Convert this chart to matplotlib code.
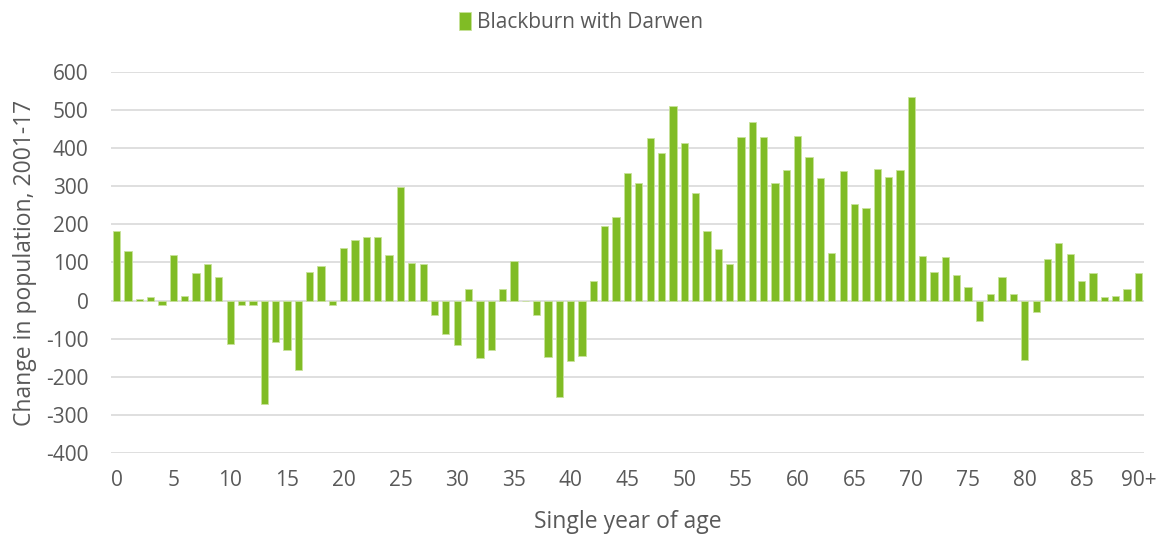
import matplotlib
matplotlib.use("Agg")
import matplotlib.pyplot as plt
import numpy as np

ages = list(range(91))
tick_labels = ["0", "5", "10", "15", "20", "25", "30", "35", "40", "45",
               "50", "55", "60", "65", "70", "75", "80", "85", "90+"]
tick_positions = list(range(0, 91, 5))

change = [182, 129, 5, 8, -13, 120, 11, 72, 97, 62,
          -115, -13, -13, -273, -110, -129, -182, 75, 90, -12,
          139, 158, 167, 166, 119, 299, 99, 95, -37, -89,
          -117, 30, -151, -131, 30, 104, 0, -39, -149, -254,
          -159, -145, 50, 196, 220, 336, 310, 426, 388, 511,
          413, 282, 182, 135, 96, 429, 470, 429, 310, 344,
          432, 376, 321, 124, 341, 255, 242, 346, 324, 342,
          534, 117, 76, 115, 66, 35, -55, 18, 63, 16,
          -156, -30, 108, 150, 123, 50, 73, 9, 13, 30, 71]

series_name = "Blackburn with Darwen"
bar_color = "#80BC25"
text_color = "#595959"
font = ["Open Sans", "DejaVu Sans"]

plt.rcParams['font.family'] = font
plt.rcParams['axes.unicode_minus'] = False

fig = plt.figure(figsize=(11.62, 5.40), dpi=100)
ax = fig.add_axes([0.0955, 0.1617, 0.889, 0.7045])

ax.bar(ages, change, width=0.64, color=bar_color, edgecolor="#C8E29A",
       linewidth=0.6, label=series_name, zorder=3)

ax.set_xlim(-0.5, 90.5)
ax.set_ylim(-400, 600)
ax.set_yticks(range(-400, 601, 100))
ax.set_xticks(tick_positions)
ax.set_xticklabels(tick_labels)
ax.tick_params(axis='both', length=0, labelsize=15, colors=text_color)
ax.tick_params(axis='x', pad=12.5)
ax.tick_params(axis='y', pad=16)
ax.grid(axis='y', color="#D9D9D9", linewidth=1.2, zorder=0)
for s in ax.spines.values():
    s.set_visible(False)

ax.set_xlabel("Single year of age", fontsize=16.5, color=text_color, labelpad=14)
ax.set_ylabel("Change in population, 2001-17", fontsize=16.5, color=text_color, labelpad=7)

leg = fig.legend(loc="upper center", bbox_to_anchor=(0.5, 1.012), frameon=False,
                 fontsize=15, handlelength=0.6, handleheight=0.9, handletextpad=0.3)
for t in leg.get_texts():
    t.set_color(text_color)

fig.savefig("out.png", dpi=100)
